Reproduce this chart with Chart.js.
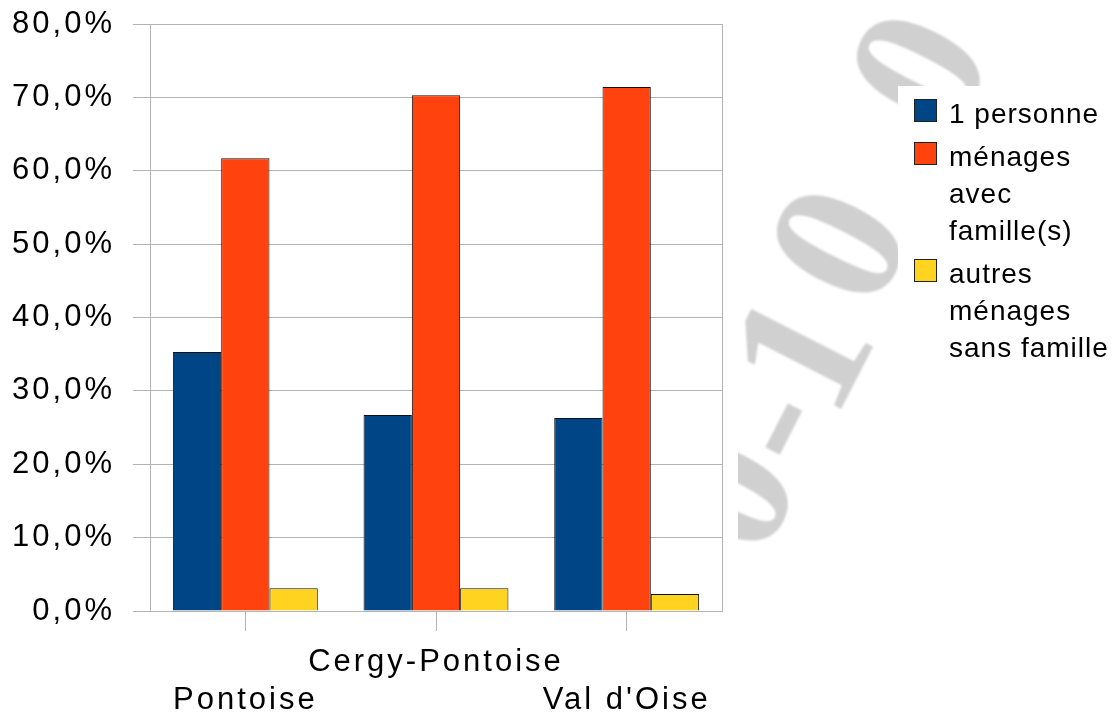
<!DOCTYPE html>
<html>
<head>
<meta charset="utf-8">
<script src="https://cdn.jsdelivr.net/npm/chart.js@4.4.0/dist/chart.umd.min.js"></script>
<style>
  html, body { margin: 0; padding: 0; background: #fff; }
  #wrap { width: 1119px; height: 716px; }
</style>
</head>
<body>
<div id="wrap"><canvas id="chart"></canvas></div>
<script>
const categories = ['Pontoise', 'Cergy-Pontoise', "Val d'Oise"];
const seriesNames = ['1 personne', 'ménages avec famille(s)', 'autres ménages sans famille'];
const legendLines = [['1 personne'], ['ménages', 'avec', 'famille(s)'], ['autres', 'ménages', 'sans famille']];
const seriesColors = ['#004586', '#ff420e', '#ffd320'];
const onePerson = [35.3, 26.7, 26.3];
const withFamily = [61.7, 70.3, 71.4];
const noFamily = [3.1, 3.1, 2.3];
const yMax = 80;
const yStep = 10;

// grey background stamp behind the legend
const stampChars = ['0', '-', '1', '0', '0'];
const stampPos = [[738, 498], [780, 427], [812, 358], [850, 250], [930, 75]];

const FONT = '"Liberation Sans", Arial, sans-serif';
const GRID = '#b3b3b3';

// the middle category label sits one line higher than its neighbours
const xLabels = categories.map((c, i) => (i % 2 ? [c, ''] : ['', c]));

const stampPlugin = {
  id: 'stamp',
  beforeDraw(chart) {
    const ctx = chart.ctx;
    ctx.save();
    ctx.beginPath();
    ctx.rect(738, 0, 381, 622);
    ctx.clip();
    ctx.fillStyle = '#d0d0d0';
    ctx.filter = 'blur(1px)';
    ctx.font = 'bold 190px "Liberation Serif", "DejaVu Serif", serif';
    ctx.textAlign = 'center';
    ctx.textBaseline = 'middle';
    stampChars.forEach((ch, i) => {
      ctx.save();
      ctx.translate(stampPos[i][0], stampPos[i][1]);
      ctx.rotate(-63 * Math.PI / 180);
      ctx.fillText(ch, 0, 0);
      ctx.restore();
    });
    ctx.restore();
    // wider glyph spacing for the axis labels
    ctx.letterSpacing = '3px';
  }
};

const frameAndLegend = {
  id: 'frameAndLegend',
  afterDraw(chart) {
    const ctx = chart.ctx;
    const a = chart.chartArea;
    ctx.save();
    ctx.letterSpacing = '0px';
    ctx.strokeStyle = GRID;
    ctx.lineWidth = 1;
    ctx.strokeRect(Math.round(a.left) + 0.5, Math.round(a.top) + 0.5,
      Math.round(a.right - a.left), Math.round(a.bottom - a.top));

    // legend block on white
    ctx.fillStyle = '#fff';
    ctx.fillRect(898, 86, 221, 292);
    ctx.font = '28px ' + FONT;
    ctx.letterSpacing = '1px';
    ctx.textBaseline = 'middle';
    ctx.textAlign = 'left';
    let y = 115;
    legendLines.forEach((lines, i) => {
      ctx.fillStyle = seriesColors[i];
      ctx.fillRect(914, y - 16, 22, 22);
      ctx.strokeStyle = '#222';
      ctx.strokeRect(914.5, y - 15.5, 22, 22);
      ctx.fillStyle = '#000';
      lines.forEach((t, j) => ctx.fillText(t, 949, y + j * 37));
      y += lines.length * 37 + 6;
    });
    ctx.restore();
  }
};

const series = [onePerson, withFamily, noFamily];

new Chart(document.getElementById('chart'), {
  type: 'bar',
  data: {
    labels: xLabels,
    datasets: series.map((d, i) => ({
      label: seriesNames[i],
      data: d,
      backgroundColor: seriesColors[i],
      borderColor: '#111',
      borderWidth: 1,
      barPercentage: 1,
      categoryPercentage: 0.76
    }))
  },
  options: {
    responsive: true,
    maintainAspectRatio: false,
    animation: false,
    layout: { padding: { top: 24, right: 397, left: 0, bottom: 0 } },
    plugins: {
      legend: { display: false },
      tooltip: { enabled: false }
    },
    scales: {
      x: {
        grid: { color: GRID, drawOnChartArea: false, offset: false, tickLength: 20 },
        border: { color: GRID },
        ticks: {
          color: '#000', autoSkip: false, maxRotation: 0, padding: 12,
          font: { family: FONT, size: 31, lineHeight: '38px' }
        },
        afterFit(scale) { scale.height = 105; }
      },
      y: {
        min: 0,
        max: yMax,
        grid: { color: GRID, tickLength: 17 },
        border: { color: GRID },
        ticks: {
          stepSize: yStep,
          color: '#000',
          padding: 18,
          font: { family: FONT, size: 31 },
          callback: v => v.toFixed(1).replace('.', ',') + '%'
        },
        afterFit(scale) {
          scale.width = 150;
          scale.paddingTop = 0;
        }
      }
    }
  },
  plugins: [stampPlugin, frameAndLegend]
});
</script>
</body>
</html>
